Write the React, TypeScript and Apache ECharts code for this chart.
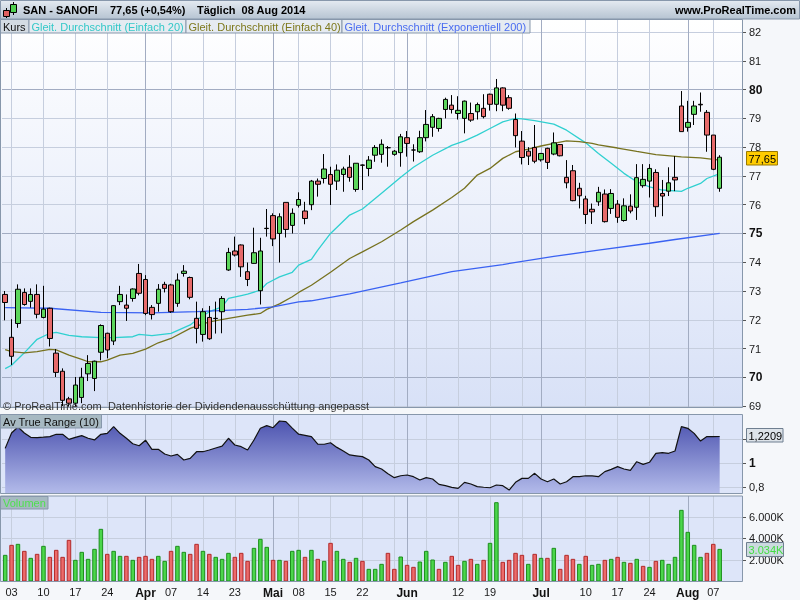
import React, { useEffect, useRef } from 'react';
import * as echarts from 'echarts';

// ---------- DATA ----------
const dates = ['28.02',
  '03.03','04.03','05.03','06.03','07.03','10.03','11.03','12.03','13.03','14.03','17.03','18.03','19.03','20.03','21.03','24.03','25.03','26.03','27.03','28.03','31.03',
  '01.04','02.04','03.04','04.04','07.04','08.04','09.04','10.04','11.04','14.04','15.04','16.04','17.04','22.04','23.04','24.04','25.04','28.04','29.04','30.04',
  '02.05','05.05','06.05','07.05','08.05','09.05','12.05','13.05','14.05','15.05','16.05','19.05','20.05','21.05','22.05','23.05','26.05','27.05','28.05','29.05','30.05',
  '02.06','03.06','04.06','05.06','06.06','09.06','10.06','11.06','12.06','13.06','16.06','17.06','18.06','19.06','20.06','23.06','24.06','25.06','26.06','27.06','30.06',
  '01.07','02.07','03.07','04.07','07.07','08.07','09.07','10.07','11.07','14.07','15.07','16.07','17.07','18.07','21.07','22.07','23.07','24.07','25.07','28.07','29.07','30.07','31.07',
  '01.08','04.08','05.08','06.08','07.08','08.08'];

const padCategories = ['p1', 'p2', 'p3'];

const opens = [72.88,71.39,71.87,72.95,72.64,72.88,72.08,72.40,70.84,70.21,
  69.25,69.10,69.30,70.12,69.96,70.87,71.53,71.26,72.63,72.51,
  72.74,73.61,73.40,72.43,72.57,73.23,73.21,72.57,73.61,73.47,
  72.05,71.49,72.08,72.05,72.28,73.73,74.39,74.60,73.67,73.96,
  73.01,75.18,75.62,75.00,76.08,75.28,75.98,75.78,76.00,76.82,
  76.91,77.05,76.82,77.05,77.30,76.53,77.37,77.26,77.72,77.75,
  77.98,77.75,77.81,78.33,77.90,77.84,78.33,78.69,78.65,79.31,
  79.46,79.17,79.00,79.17,79.23,79.35,79.84,79.49,80.06,79.72,
  78.96,78.21,77.86,77.99,77.56,77.96,77.76,78.09,76.95,77.18,
  76.57,76.20,75.84,76.10,76.37,75.87,76.02,75.45,75.95,75.91,
  76.66,76.82,77.12,76.39,76.47,76.95,79.43,78.69,79.14,79.49,
  79.21,78.42,76.57];

const closes = [72.60,70.73,73.06,72.53,72.88,72.19,72.37,71.35,70.17,69.20,
  69.10,69.73,70.00,70.48,70.56,71.80,70.95,72.49,72.88,72.40,
  73.07,72.92,72.22,72.18,73.06,73.09,72.28,73.38,73.69,72.78,
  71.70,72.28,71.34,72.04,72.74,74.34,74.25,73.84,73.40,74.33,
  74.39,75.17,74.81,75.58,75.14,75.70,76.18,75.52,76.82,76.71,
  77.24,76.71,77.20,77.24,76.95,77.44,77.38,77.55,77.99,78.10,
  77.98,77.86,78.36,78.13,77.90,78.33,78.79,79.06,79.00,79.66,
  79.31,79.28,79.60,78.94,79.48,79.06,79.49,80.06,79.46,79.35,
  78.40,77.64,77.69,77.51,77.78,77.47,78.15,77.70,76.76,76.14,
  76.31,75.66,75.75,76.43,75.41,76.39,75.56,75.96,75.78,76.94,
  76.88,77.26,75.93,76.30,76.76,76.86,78.54,78.86,79.43,79.47,
  78.42,77.23,77.65];

const lows = [71.98,70.43,71.72,72.49,72.42,72.05,72.05,71.07,70.01,69.00,
  68.98,68.98,69.10,69.87,69.52,70.59,70.66,71.12,72.51,71.96,
  72.63,72.85,72.16,72.01,72.28,72.95,72.24,72.45,73.50,72.71,
  71.18,71.24,71.30,71.52,71.53,73.70,74.20,73.49,73.17,73.95,
  72.53,74.89,74.56,73.99,74.86,75.00,75.90,75.32,75.81,76.28,
  76.74,75.99,76.51,76.45,76.80,76.45,76.51,76.99,77.49,77.46,
  77.32,77.70,77.32,77.67,77.50,77.80,78.20,78.36,78.54,79.00,
  79.17,78.96,78.48,78.88,78.96,79.00,79.27,79.25,79.25,79.30,
  77.99,77.40,77.38,77.44,77.50,77.24,77.72,77.68,76.57,76.12,
  75.87,75.33,75.33,75.96,75.38,75.68,75.37,75.41,75.70,75.47,
  76.59,76.25,75.58,75.60,76.30,76.47,78.54,78.54,78.77,79.23,
  77.84,77.20,76.45];

const highs = [73.00,72.02,73.23,73.09,73.09,73.23,73.18,72.42,70.98,70.31,
  69.32,70.01,70.33,70.77,70.58,71.84,71.55,72.51,73.18,72.88,
  73.09,73.94,73.55,72.51,73.24,73.32,73.25,73.61,73.90,73.50,
  72.63,72.40,72.48,72.63,72.82,74.50,74.89,74.62,73.99,75.20,
  74.85,75.85,75.70,75.70,76.08,75.87,76.43,76.10,76.86,76.91,
  77.76,77.32,77.40,77.32,77.72,77.44,77.40,77.69,78.07,78.27,
  78.04,77.90,78.46,78.56,78.10,78.57,79.29,79.15,79.02,79.72,
  79.81,79.77,79.62,79.55,79.55,79.84,79.86,80.37,80.08,79.81,
  79.17,78.56,78.00,78.77,77.80,77.98,78.51,78.10,77.55,77.38,
  76.76,76.31,76.04,76.62,76.53,76.54,76.16,76.22,76.36,77.41,
  77.41,77.41,77.23,76.86,77.30,77.69,79.95,79.61,79.61,79.90,
  79.29,78.42,77.72];

// moving averages: [bar index, value]
const sma20 = [[0,70.30],[1,70.42],[3,70.85],[5,71.32],[7,71.53],[8,71.56],[10,71.46],[12,71.41],[15,71.38],[17,71.38],
  [20,71.41],[21,71.49],[23,71.45],[26,71.53],[29,71.82],[30,71.99],[32,72.28],[34,72.45],[35,72.74],[37,72.84],
  [38,72.89],[40,73.03],[41,73.26],[43,73.49],[45,73.65],[46,73.90],[48,74.10],[49,74.42],[51,75.00],[54,75.64],
  [56,75.85],[59,76.40],[62,76.95],[64,77.30],[67,77.72],[70,78.06],[72,78.22],[74,78.42],[76,78.65],[78,78.88],
  [80,79.00],[81,78.98],[83,78.92],[86,78.80],[88,78.59],[91,78.15],[93,77.78],[95,77.44],[97,77.09],[99,76.80],
  [101,76.62],[103,76.51],[106,76.46],[107,76.57],[109,76.74],[110,76.91],[112,77.08]];

const sma40 = [[0,70.96],[1,70.89],[3,70.85],[5,70.89],[7,70.97],[8,70.95],[10,70.77],[12,70.62],[13,70.54],[15,70.54],
  [16,70.60],[18,70.77],[20,70.83],[22,70.98],[24,71.20],[26,71.35],[29,71.70],[30,71.78],[32,71.93],[35,72.05],
  [38,72.16],[40,72.22],[41,72.36],[43,72.55],[45,72.80],[46,72.95],[48,73.20],[51,73.65],[54,74.13],[56,74.36],
  [59,74.71],[62,75.12],[64,75.41],[67,75.81],[70,76.25],[72,76.57],[74,77.03],[76,77.26],[78,77.61],[80,77.84],
  [82,77.93],[84,78.04],[86,78.13],[88,78.22],[90,78.19],[92,78.13],[93,78.08],[96,77.97],[99,77.85],[102,77.74],
  [106,77.66],[109,77.63],[112,77.55]];

const ema200 = [[0,72.42],[7,72.40],[15,72.26],[23,72.24],[30,72.28],[38,72.36],[42,72.45],[46,72.62],[48,72.66],
  [54,72.90],[62,73.28],[70,73.67],[78,73.92],[86,74.20],[93,74.42],[101,74.66],[105,74.79],[112,75.00]];

const atr = [1.122,1.25,1.30,1.25,1.214,1.212,1.215,1.22,1.239,1.239,
  1.197,1.214,1.228,1.206,1.192,1.239,1.247,1.303,1.247,1.206,
  1.16,1.144,1.19,1.114,1.114,1.075,1.058,1.072,1.025,1.039,
  1.094,1.094,1.108,1.125,1.14,1.206,1.15,1.136,1.108,1.192,
  1.29,1.311,1.294,1.35,1.344,1.29,1.24,1.23,1.22,1.158,
  1.156,1.169,1.13,1.10,1.067,1.06,1.053,1.025,0.97,0.95,
  0.91,0.878,0.894,0.90,0.886,0.858,0.878,0.867,0.822,0.811,
  0.797,0.789,0.839,0.825,0.803,0.798,0.794,0.817,0.811,0.775,
  0.839,0.872,0.872,0.914,0.867,0.844,0.867,0.825,0.844,0.886,
  0.886,0.894,0.892,0.886,0.928,0.947,0.97,0.95,0.939,1.011,
  0.989,1.006,1.081,1.086,1.081,1.10,1.303,1.289,1.247,1.183,
  1.22,1.22,1.2209];

// volume in thousands
const volume = [2480,3410,3503,2852,2201,2573,3317,2294,2945,2294,
  3875,2015,2759,2108,3038,4898,2573,2852,2387,2387,
  2015,2294,2387,2108,2387,1922,2852,3317,2759,2573,
  3503,2852,2573,2294,2108,2666,2294,2666,1922,3131,
  3968,3224,2015,2015,1922,2852,2945,2294,2945,2108,
  1922,3596,2852,2108,1829,2201,1922,1178,1178,1643,
  2666,1178,2325,1550,1364,1860,2852,2046,1178,1829,
  2387,1550,1922,2108,1643,2015,3596,7378,1829,2015,
  2666,2480,1643,2573,2201,2201,3131,1178,2480,2108,
  1643,2387,1550,1643,2015,2108,2294,1829,1736,2108,
  1457,1364,1922,2015,1643,2294,6665,4619,3410,2294,
  2666,3503,3034];

const priceTicks = [69,70,71,72,73,74,75,76,77,78,79,80,81,82];
const boldPriceTicks = [70,75,80];
const atrTicks = [0.8,1,1.2];
const atrLabelTicks = [0.8,1];
const volTicks = [2000,4000,6000];

// x-axis: date -> label ('' = grid line only)
const xTicks: Record<string,string> = {
  '03.03':'03','10.03':'10','17.03':'17','24.03':'24','01.04':'Apr','07.04':'07','14.04':'14','23.04':'23',
  '02.05':'Mai','08.05':'08','15.05':'15','22.05':'22','29.05':'','02.06':'Jun','05.06':'','12.06':'12','19.06':'19',
  '26.06':'','01.07':'Jul','10.07':'10','17.07':'17','24.07':'24','01.08':'Aug','07.08':'07'};
const monthNames = ['Apr','Mai','Jun','Jul','Aug'];

const headerTexts = ['SAN - SANOFI','77,65 (+0,54%)','Täglich  08 Aug 2014'];
const siteText = 'www.ProRealTime.com';
const legendLabels = ['Kurs','Gleit. Durchschnitt (Einfach 20)','Gleit. Durchschnitt (Einfach 40)','Gleit. Durchschnitt (Exponentiell 200)'];
const footerText = '© ProRealTime.com  Datenhistorie der Dividendenausschüttung angepasst';
const atrTitle = 'Av True Range (10)';
const volTitle = 'Volumen';
const lastPriceLabel = '77,65';
const lastAtrLabel = '1,2209';
const lastVolLabel = '3.034K';

// ---------- CHART ----------
const FONT = 'Liberation Sans';

export default function App() {
  const ref = useRef<HTMLDivElement>(null);
  useEffect(() => {
    const chart = echarts.init(ref.current as HTMLDivElement, null, { renderer: 'svg' });
    const cats = [...dates, ...padCategories];
    const candleData = dates.map((_, i) => [opens[i], closes[i], lows[i], highs[i]]);
    const volData = volume.map((v, i) => {
      const up = i === 0 || closes[i] >= closes[i - 1];
      return { value: v, itemStyle: { color: up ? '#4bd64b' : '#ec6b6b', borderColor: up ? '#1c8f1c' : '#b22a2a', borderWidth: 1 } };
    });

    const isGrid = (_i: number, v: string) => v in xTicks;
    const isMonth = (_i: number, v: string) => monthNames.includes(xTicks[v]);
    const isLabel = (_i: number, v: string) => !!xTicks[v];

    const LIGHT = '#c6cede';
    const DARK = '#a2acc2';

    const xBase = (gridIndex: number, extra: any) => ({
      type: 'category', gridIndex, data: cats, boundaryGap: true,
      axisLine: { show: false }, axisTick: { show: false }, axisLabel: { show: false }, ...extra,
    });
    const lightSplit = { show: true, interval: isGrid, alignWithLabel: true, lineStyle: { color: LIGHT, width: 1 } };
    const monthSplit = { show: true, interval: isMonth, alignWithLabel: true, lineStyle: { color: DARK, width: 1 } };

    const grad = (c0: string, c1: string) => new echarts.graphic.LinearGradient(0, 0, 0, 1, [
      { offset: 0, color: c0 }, { offset: 1, color: c1 }]);

    const txt = (x: number, y: number, text: string, o: any = {}) => ({
      type: 'text', x, y, z: 20, silent: true,
      style: {
        text, fill: o.fill || '#000', fontSize: o.size || 11, fontWeight: o.bold ? 'bold' : 'normal', fontFamily: FONT,
        align: o.align || 'left', verticalAlign: 'middle', textAlign: o.align || 'left', textVerticalAlign: 'middle',
      },
    });
    const box = (x: number, y: number, w: number, h: number, fill: any, stroke = '#8797ab', z = 18) => ({
      type: 'rect', z, silent: true, shape: { x, y, width: w, height: h }, style: { fill, stroke, lineWidth: 1 },
    });

    const legendBoxes = [[0.5, 28.5], [29, 157], [186, 156], [342, 188]];
    const legendColors = ['#111111', '#33c8c8', '#7d781c', '#4a6cf0'];

    const graphics: any[] = [
      { type: 'rect', z: -20, silent: true, shape: { x: 0, y: 0, width: 800, height: 600 }, style: { fill: '#f5f7fa' } },
      box(0.5, 0.5, 799, 18.5, grad('#e4eaf1', '#b6c4d2'), '#8797ab', -5),
      { type: 'rect', z: -10, silent: true, shape: { x: 0.5, y: 19.5, width: 742, height: 388 }, style: { fill: grad('#ffffff', '#d8e1f7') } },
      { type: 'rect', z: -10, silent: true, shape: { x: 0.5, y: 414.5, width: 742, height: 79 }, style: { fill: '#dde5f9' } },
      { type: 'rect', z: -10, silent: true, shape: { x: 0.5, y: 496, width: 742, height: 85.5 }, style: { fill: '#dde5f9' } },
      box(0.5, 19.5, 742, 388, 'none', '#8797ab', 6),
      box(0.5, 414.5, 742, 79, 'none', '#8797ab', 6),
      box(0.5, 496, 742, 85.5, 'none', '#8797ab', 6),
      // header icon
      { type: 'line', z: 19, silent: true, shape: { x1: 6.5, y1: 8, x2: 6.5, y2: 18 }, style: { stroke: '#000', lineWidth: 1 } },
      box(3.5, 10.5, 6, 6, '#e06060', '#000', 20),
      { type: 'line', z: 19, silent: true, shape: { x1: 13.5, y1: 2, x2: 13.5, y2: 15 }, style: { stroke: '#000', lineWidth: 1 } },
      box(10.5, 4.5, 6, 8, '#50d050', '#000', 20),
      txt(23, 9.5, headerTexts[0], { bold: true }),
      txt(110, 9.5, headerTexts[1], { bold: true }),
      txt(197, 9.5, headerTexts[2], { bold: true }),
      txt(796, 9.5, siteText, { bold: true, align: 'right' }),
    ];
    legendLabels.forEach((l, i) => {
      const [bx, bw] = legendBoxes[i];
      graphics.push(box(bx, 19.5, bw, 13.5, i === 0 ? '#d3dbe3' : '#e6ebf1'));
      graphics.push(txt(bx + 2.5, 26.5, l, { fill: legendColors[i] }));
    });
    graphics.push(
      txt(3, 406, footerText, { fill: '#333333' }),
      box(0.5, 414.5, 101, 13.5, '#a7b9c2'),
      txt(3, 421.5, atrTitle, { fill: '#111' }),
      box(0.5, 496.5, 47.5, 12.5, '#a7b9c2'),
      txt(3, 503, volTitle, { fill: '#4fe04f' }),
      box(746.5, 151.5, 31, 13.5, '#ffcc00', '#9a7a00'),
      txt(748.5, 158.5, lastPriceLabel, { fill: '#000' }),
      box(746.5, 428.5, 36.5, 13.5, '#dde3e9', '#6f7f90'),
      txt(748.5, 435.5, lastAtrLabel, { fill: '#000' }),
      box(746.5, 542.5, 37, 14, '#ccdadf', '#6f7f90'),
      txt(748.5, 549.5, lastVolLabel, { fill: '#44dd44' }),
    );

    const option: any = {
      animation: false,
      textStyle: { fontFamily: FONT },
      grid: [
        { left: 2, right: 58, top: 20, height: 387.5 },
        { left: 2, right: 58, top: 414.5, height: 79 },
        { left: 2, right: 58, top: 496, height: 85.5 },
      ],
      xAxis: [
        xBase(0, { splitLine: lightSplit }),
        xBase(0, { position: 'top', splitLine: monthSplit }),
        xBase(1, { splitLine: lightSplit }),
        xBase(1, { position: 'top', splitLine: monthSplit }),
        xBase(2, {
          splitLine: lightSplit,
          axisLabel: {
            show: true, interval: isLabel, margin: 5, fontSize: 11, color: '#1a1a1a', fontFamily: FONT,
            formatter: (v: string) => (monthNames.includes(xTicks[v]) ? `{m|${xTicks[v]}}` : xTicks[v]),
            rich: { m: { fontWeight: 'bold', fontSize: 12, color: '#111', fontFamily: FONT } },
          },
        }),
        xBase(2, { position: 'top', splitLine: monthSplit }),
      ],
      yAxis: [
        {
          type: 'value', gridIndex: 0, position: 'right', min: 68.95, max: 82.42, splitNumber: 13,
          axisLine: { show: false },
          axisTick: { show: true, length: 4, customValues: priceTicks, lineStyle: { color: '#555' } },
          axisLabel: {
            customValues: priceTicks, margin: 7, fontSize: 11, color: '#1a1a1a', fontFamily: FONT,
            formatter: (v: number) => { const n = Math.round(v); return boldPriceTicks.includes(n) ? `{b|${n}}` : `${n}`; },
            rich: { b: { fontWeight: 'bold', fontSize: 12, color: '#111', fontFamily: FONT } },
          },
          splitLine: { show: true, lineStyle: { color: LIGHT } },
        },
        {
          type: 'value', gridIndex: 0, position: 'left', min: 68.95, max: 82.42, splitNumber: 3,
          axisLine: { show: false }, axisTick: { show: false, customValues: boldPriceTicks }, axisLabel: { show: false },
          splitLine: { show: true, lineStyle: { color: DARK } },
        },
        {
          type: 'value', gridIndex: 1, position: 'right', min: 0.746, max: 1.404, splitNumber: 3,
          axisLine: { show: false },
          axisTick: { show: true, length: 4, customValues: atrTicks, lineStyle: { color: '#555' } },
          axisLabel: {
            customValues: atrLabelTicks, margin: 7, fontSize: 11, color: '#1a1a1a', fontFamily: FONT,
            formatter: (v: number) => (Math.abs(v - 1) < 1e-6 ? '{b|1}' : String(v).replace('.', ',')),
            rich: { b: { fontWeight: 'bold', fontSize: 12, color: '#111', fontFamily: FONT } },
          },
          splitLine: { show: true, lineStyle: { color: LIGHT } },
        },
        {
          type: 'value', gridIndex: 2, position: 'right', min: 0, max: 7953, interval: 2000,
          axisLine: { show: false },
          axisTick: { show: true, length: 4, customValues: volTicks, lineStyle: { color: '#555' } },
          axisLabel: {
            customValues: volTicks, margin: 7, fontSize: 11, color: '#1a1a1a', fontFamily: FONT,
            formatter: (v: number) => `${(v / 1000).toFixed(3)}K`,
          },
          splitLine: { show: true, lineStyle: { color: LIGHT } },
        },
      ],
      series: [
        { type: 'line', name: 'SMA20', xAxisIndex: 0, yAxisIndex: 0, data: sma20, symbol: 'none', silent: true, z: 2,
          lineStyle: { color: '#30d0d0', width: 1.3 } },
        { type: 'line', name: 'SMA40', xAxisIndex: 0, yAxisIndex: 0, data: sma40, symbol: 'none', silent: true, z: 2,
          lineStyle: { color: '#77721f', width: 1.3 } },
        { type: 'line', name: 'EMA200', xAxisIndex: 0, yAxisIndex: 0, data: ema200, symbol: 'none', silent: true, z: 2,
          lineStyle: { color: '#3a62f2', width: 1.3 } },
        { type: 'candlestick', xAxisIndex: 0, yAxisIndex: 0, data: candleData, barWidth: 5, z: 3, silent: true,
          itemStyle: { color: '#5cd65c', color0: '#e66a6a', borderColor: '#000', borderColor0: '#000', borderColorDoji: '#000', borderWidth: 1 } },
        { type: 'line', xAxisIndex: 2, yAxisIndex: 2, data: atr, symbol: 'none', silent: true,
          lineStyle: { color: '#111', width: 1.2 },
          areaStyle: { origin: 'start', opacity: 1, color: grad('#4d54b0', '#b3bbea') } },
        { type: 'bar', xAxisIndex: 4, yAxisIndex: 3, data: volData, barWidth: 4.5, silent: true },
      ],
      graphic: { elements: graphics },
    };
    chart.setOption(option);
    return () => chart.dispose();
  }, []);
  return <div ref={ref} style={{ position: 'fixed', left: 0, top: 0, width: 800, height: 600 }} />;
}
